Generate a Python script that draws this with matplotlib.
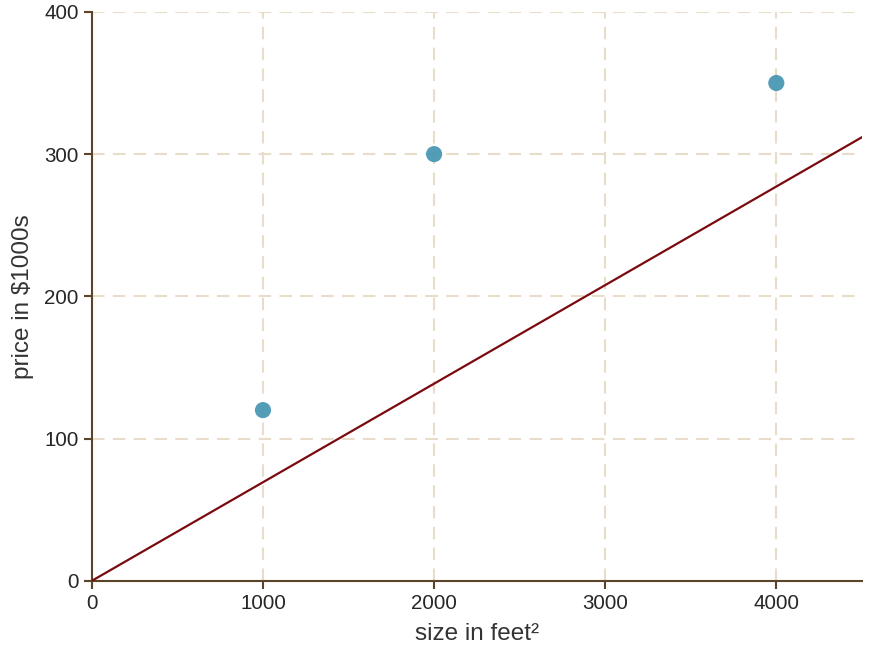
import numpy as np
import matplotlib
matplotlib.use("Agg")
import matplotlib.pyplot as plt

plt.rcParams['font.family'] = ['Liberation Sans', 'DejaVu Sans']

size = [1000, 2000, 4000]
price = [120, 300, 350]
w = 0.0693  # slope of the fitted line
line_x = [0, 4500]

fig = plt.figure(figsize=(8.75, 6.6), dpi=100)
ax = fig.add_axes([0.105, 0.12, 0.88, 0.862])

ax.plot(line_x, [w * x for x in line_x], color='#7a0a0f', lw=1.6, zorder=3)
ax.scatter(size, price, s=135, color='#4a98b3', alpha=0.95, zorder=4, edgecolors='none')

ax.set_xlim(0, 4500)
ax.set_ylim(0, 400)
ax.set_xticks([0, 1000, 2000, 3000, 4000])
ax.set_yticks([0, 100, 200, 300, 400])
ax.grid(True, color='#e8dccb', linestyle=(0, (6, 4)), lw=1.5)
ax.set_axisbelow(True)

for s in ['top', 'right']:
    ax.spines[s].set_visible(False)
for s in ['left', 'bottom']:
    ax.spines[s].set_color('#5c4428')
    ax.spines[s].set_linewidth(1.5)
ax.tick_params(colors='#5c4428', width=1.5, length=6, labelsize=14.8, labelcolor='#262626')

ax.set_xlabel("size in feet²", fontsize=17.5, color='#333333', labelpad=7)
ax.set_ylabel("price in $1000s", fontsize=17.5, color='#333333', labelpad=7)

fig.savefig("out.png", dpi=100)
